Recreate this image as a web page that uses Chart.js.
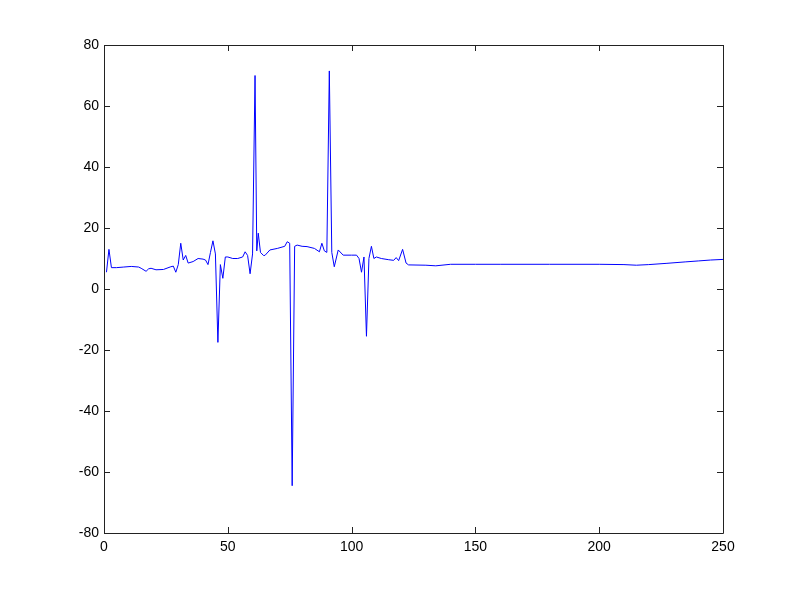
<!DOCTYPE html>
<html>
<head>
<meta charset="utf-8">
<script src="https://cdn.jsdelivr.net/npm/chart.js@4"></script>
<style>
  html, body { margin: 0; padding: 0; background: #fff; }
  canvas { display: block; }
</style>
</head>
<body>
<canvas id="plot" width="799" height="599"></canvas>
<script>
// sample positions and values
var xs = [1, 2, 3, 5, 8, 11, 14, 15, 17, 18, 19, 21, 24, 27, 28, 29, 30, 31, 32, 33, 34, 36, 38, 40, 41, 42, 43, 44, 45, 46, 47, 48, 49,
          50, 52, 54, 56, 57, 58, 59, 60, 61, 61.7, 62.3, 63.2, 64.4, 65, 67, 70, 73, 74, 75, 76, 77, 78, 80, 82, 85, 87, 88, 89, 90, 91, 92, 93, 94.6, 96.6,
          100, 102, 103, 104, 105, 106, 107, 108, 109, 110, 112, 115, 117, 118, 119, 120.6, 122, 123, 130, 134, 140, 150, 160, 180,
          200, 210, 215, 220, 227, 235, 240, 245, 250];
var ys = [5.5, 13, 7, 7, 7.2, 7.4, 7.2, 6.8, 5.8, 6.6, 6.8, 6.3, 6.4, 7.3, 7.5, 5.5, 8, 15, 9.5, 11, 8.5, 9, 10, 9.8, 9.5, 8, 12, 15.8, 11.5, -17.5, 8, 3.5, 10.5,
          10.5, 10, 10, 10.5, 12.2, 11, 5, 11.5, 70, 12.5, 18.3, 12, 11, 11, 12.8, 13.3, 14, 15.5, 15, -64.5, 14, 14.4, 14, 13.9, 13.3, 12.2, 15, 12.5, 12, 71.5, 12, 7.3, 12.8, 11.1,
          11.1, 11.1, 10, 5.5, 10.5, -15.5, 10, 14, 10, 10.5, 10, 9.6, 9.4, 10.3, 9.3, 13, 8.5, 7.9, 7.8, 7.6, 8.1, 8.1, 8.1, 8.1,
          8.1, 8, 7.8, 8, 8.4, 8.9, 9.2, 9.5, 9.7];
var xTicks = [0, 50, 100, 150, 200, 250];
var yTicks = [-80, -60, -40, -20, 0, 20, 40, 60, 80];

var pts = xs.map(function (x, i) { return { x: x, y: ys[i] }; });

// matlab style box with inward ticks
var boxPlugin = {
  id: 'box',
  afterDraw: function (chart) {
    var c = chart.ctx, a = chart.chartArea;
    var sx = chart.scales.x, sy = chart.scales.y;
    c.save();
    c.strokeStyle = '#222';
    c.lineWidth = 1;
    c.beginPath();
    c.rect(Math.round(a.left) + 0.5, Math.round(a.top) + 0.5, Math.round(a.right - a.left), Math.round(a.bottom - a.top));
    xTicks.forEach(function (v) {
      var px = Math.round(sx.getPixelForValue(v)) + 0.5;
      c.moveTo(px, a.bottom); c.lineTo(px, a.bottom - 6);
      c.moveTo(px, a.top); c.lineTo(px, a.top + 6);
    });
    yTicks.forEach(function (v) {
      var py = Math.round(sy.getPixelForValue(v)) + 0.5;
      c.moveTo(a.left, py); c.lineTo(a.left + 6, py);
      c.moveTo(a.right, py); c.lineTo(a.right - 6, py);
    });
    c.stroke();
    c.restore();
  }
};

new Chart(document.getElementById('plot'), {
  type: 'line',
  data: {
    datasets: [{
      data: pts,
      borderColor: 'rgb(0, 0, 255)',
      borderWidth: 1,
      pointRadius: 0,
      tension: 0,
      fill: false
    }]
  },
  options: {
    responsive: false,
    animation: false,
    layout: { padding: { top: 45, right: 76, left: 0, bottom: 0 } },
    plugins: { legend: { display: false }, tooltip: { enabled: false } },
    scales: {
      x: {
        type: 'linear',
        min: 0, max: 250,
        afterBuildTicks: function (s) { s.ticks = xTicks.map(function (v) { return { value: v }; }); },
        afterFit: function (s) { s.height = 66; },
        grid: { display: false, drawTicks: false },
        border: { display: false },
        ticks: { color: '#000', padding: 6, maxRotation: 0, font: { family: 'Liberation Sans, Arial, sans-serif', size: 14 } }
      },
      y: {
        min: -80, max: 80,
        afterBuildTicks: function (s) { s.ticks = yTicks.map(function (v) { return { value: v }; }); },
        afterFit: function (s) { s.width = 104; },
        grid: { display: false, drawTicks: false },
        border: { display: false },
        ticks: { color: '#000', padding: 5, font: { family: 'Liberation Sans, Arial, sans-serif', size: 14 } }
      }
    }
  },
  plugins: [boxPlugin]
});
</script>
</body>
</html>
